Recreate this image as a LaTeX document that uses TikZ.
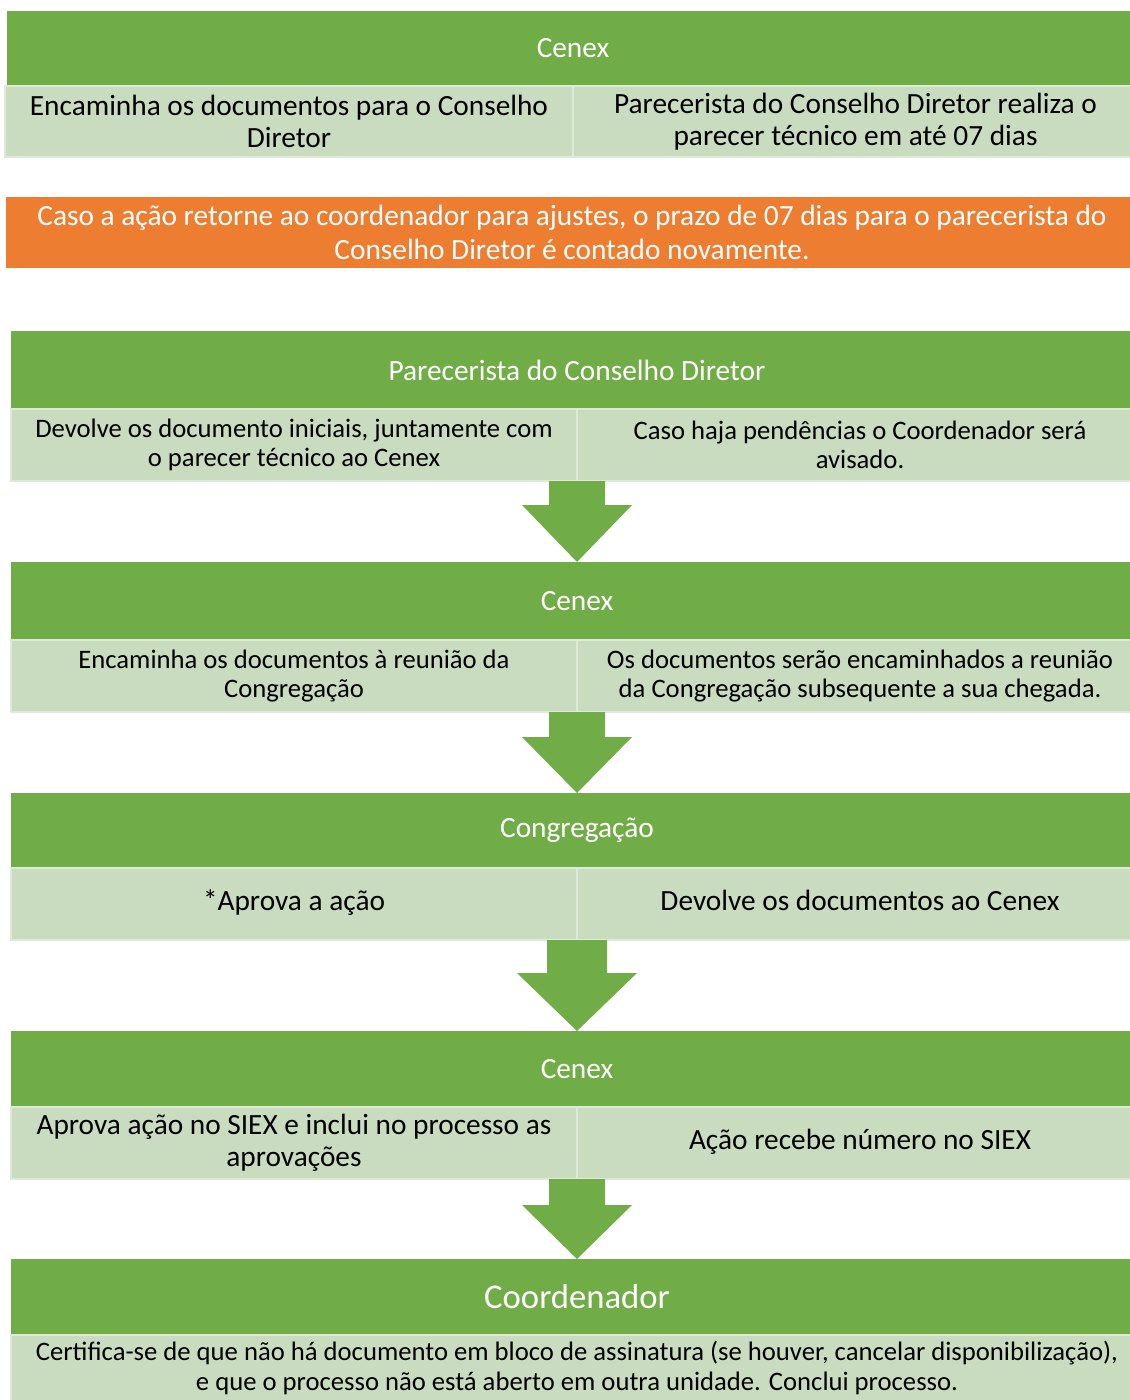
\documentclass[tikz,border=0pt]{standalone}
\usepackage{fontspec}
\setmainfont{Carlito}
\usepackage{tikz}
\usetikzlibrary{calc}

\definecolor{hdrgreen}{RGB}{112,173,71}
\definecolor{cellgreen}{RGB}{201,220,192}
\definecolor{cellline}{RGB}{222,234,216}
\definecolor{notecolor}{RGB}{237,125,49}

\newcommand{\pxl}[1]{#1*0.75pt}
% block arrow from a cell row down to the next header
\newcommand{\blockarrow}[5]{%
  \fill[hdrgreen] ($(#2.north |- #1.south)+(-#3,0)$) -- ($(#2.north |- #1.south)+(#3,0)$)
    -- ($(#2.north |- #1.south)+(#3,#5)$) -- ($(#2.north |- #1.south)+(#4,#5)$)
    -- (#2.north) -- ($(#2.north |- #1.south)+(-#4,#5)$)
    -- ($(#2.north |- #1.south)+(-#3,#5)$) -- cycle;}

\tikzset{
  hdr/.style={anchor=north west, fill=hdrgreen, text=white, inner sep=0pt, outer sep=0pt,
    align=center, font=\fontsize{22}{26}\selectfont},
  cell/.style={anchor=north west, fill=cellgreen, draw=cellline, line width=1pt, inner sep=0pt,
    outer sep=0pt, align=center, font=\fontsize{22}{24}\selectfont},
  smallcell/.style={cell, font=\fontsize{20}{22}\selectfont},
  note/.style={anchor=north west, fill=notecolor, text=white, inner sep=0pt, outer sep=0pt,
    align=center, font=\fontsize{22}{26}\selectfont},
}

\begin{document}
\begin{tikzpicture}[x=0.75pt,y=0.75pt,yscale=-1,xscale=1]
	\useasboundingbox (0,0) rectangle (1129,1400);

	% Cenex (top)
	\node[hdr, minimum width=\pxl{1132}, minimum height=\pxl{75}] (hdrA) at (7,11) {Cenex};
	\node[cell, minimum width=\pxl{568}, minimum height=\pxl{71}] (cellAl) at (5,86) {Encaminha os documentos para o Conselho\\Diretor};
	\node[cell, minimum width=\pxl{565}, minimum height=\pxl{71}] (cellAr) at (573,86) {Parecerista do Conselho Diretor realiza o\\parecer técnico em até 07 dias};

	% Note
	\node[note, minimum width=\pxl{1132}, minimum height=\pxl{71}] (noteA) at (6,197) {Caso a ação retorne ao coordenador para ajustes, o prazo de 07 dias para o parecerista do\\Conselho Diretor é contado novamente.};

	% Parecerista do Conselho Diretor
	\node[hdr, minimum width=\pxl{1132}, minimum height=\pxl{78}] (hdrB) at (11,331) {Parecerista do Conselho Diretor};
	\node[smallcell, minimum width=\pxl{566}, minimum height=\pxl{72}] (cellBl) at (11,409) {Devolve os documento iniciais, juntamente com\\o parecer técnico ao Cenex};
	\node[smallcell, minimum width=\pxl{566}, minimum height=\pxl{72}] (cellBr) at (577,409) {Caso haja pendências o Coordenador será\\avisado.};

	% Cenex
	\node[hdr, minimum width=\pxl{1132}, minimum height=\pxl{78}] (hdrC) at (11,562) {Cenex};
	\node[smallcell, minimum width=\pxl{566}, minimum height=\pxl{72}] (cellCl) at (11,640) {Encaminha os documentos à reunião da\\Congregação};
	\node[smallcell, minimum width=\pxl{566}, minimum height=\pxl{72}] (cellCr) at (577,640) {Os documentos serão encaminhados a reunião\\da Congregação subsequente a sua chegada.};

	% Congregação
	\node[hdr, minimum width=\pxl{1132}, minimum height=\pxl{75}] (hdrD) at (11,793) {Congregação};
	\node[cell, minimum width=\pxl{566}, minimum height=\pxl{72}] (cellDl) at (11,868) {\strut*Aprova a ação};
	\node[cell, minimum width=\pxl{566}, minimum height=\pxl{72}] (cellDr) at (577,868) {\strut Devolve os documentos ao Cenex};

	% Cenex
	\node[hdr, minimum width=\pxl{1132}, minimum height=\pxl{76}] (hdrE) at (11,1031) {Cenex};
	\node[cell, minimum width=\pxl{566}, minimum height=\pxl{72}] (cellEl) at (11,1107) {Aprova ação no SIEX e inclui no processo as\\aprovações};
	\node[cell, minimum width=\pxl{566}, minimum height=\pxl{72}] (cellEr) at (577,1107) {\strut Ação recebe número no SIEX};

	% Coordenador
	\node[hdr, minimum width=\pxl{1132}, minimum height=\pxl{76}, font=\fontsize{26}{30}\selectfont] (hdrF) at (11,1259) {Coordenador};
	\node[cell, minimum width=\pxl{1132}, minimum height=\pxl{66}, font=\fontsize{20}{22.5}\selectfont] (cellF) at (11,1335) {Certifica-se de que não há documento em bloco de assinatura (se houver, cancelar disponibilização),\\e que o processo não está aberto em outra unidade. Conclui processo.};

	% Arrows
	\blockarrow{cellBl}{hdrC}{28}{55}{24}
	\blockarrow{cellCl}{hdrD}{28}{55}{25}
	\blockarrow{cellDl}{hdrE}{30}{60}{33}
	\blockarrow{cellEl}{hdrF}{28}{55}{26}

\end{tikzpicture}
\end{document}
